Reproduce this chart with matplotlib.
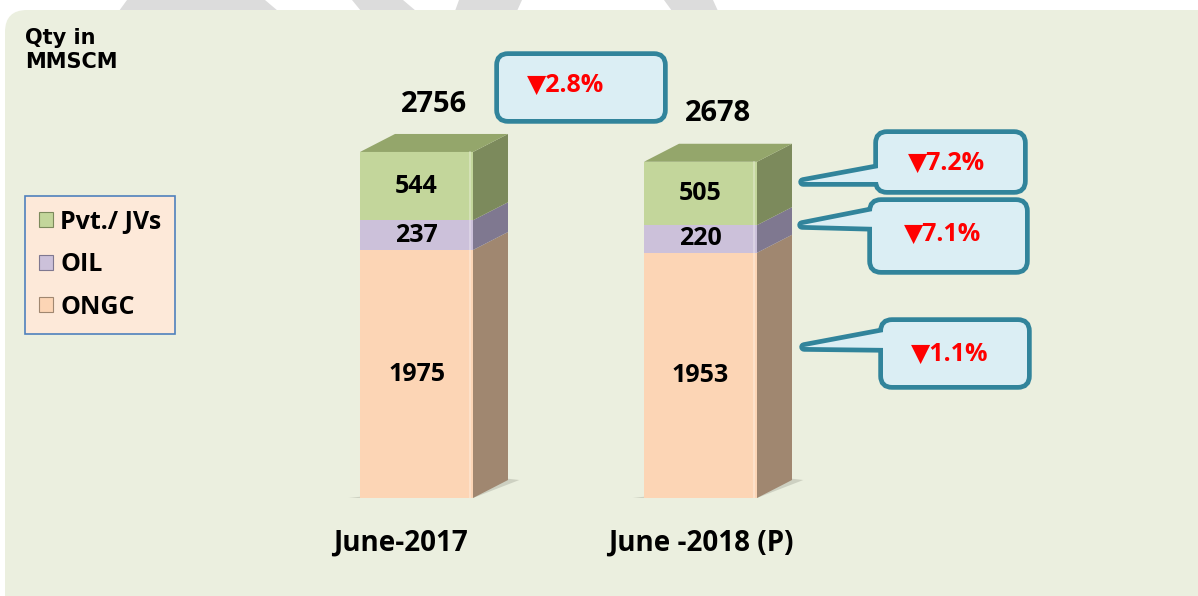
import numpy as np
import matplotlib
matplotlib.use("Agg")
import matplotlib.pyplot as plt
import matplotlib.transforms as mtransforms
from matplotlib.patches import Rectangle, Polygon, FancyBboxPatch, Patch

plt.rcParams['font.family'] = ['Open Sans', 'DejaVu Sans']
plt.rcParams['font.weight'] = 'bold'

# ------------------------------
# Data
# ------------------------------
categories = ['June-2017', 'June -2018 (P)']
series = ['ONGC', 'OIL', 'Pvt./ JVs']
ongc = [1975, 1953]
oil = [237, 220]
pvt = [544, 505]
totals = [2756, 2678]
change_labels = ['\u25bc7.2%', '\u25bc7.1%', '\u25bc1.1%']   # Pvt, OIL, ONGC
total_change = '\u25bc2.8%'

# styles
front_cols = ['#FCD5B5', '#CCC1DA', '#C3D69B']
side_cols = ['#A08770', '#7F7890', '#7C8A5C']
top_col = '#94A66B'
panel_col = '#EBEFDF'
box_fc = '#DBEEF4'
box_ec = '#31849B'

W, H = 1198, 596
fig = plt.figure(figsize=(W / 100, H / 100), dpi=100)
fig.patch.set_facecolor('white')

# background overlay in pixel coords
bg = fig.add_axes([0, 0, 1, 1])
bg.set_xlim(0, W)
bg.set_ylim(H, 0)
bg.axis('off')
for poly in [[(127, 0), (265, 0), (278, 11), (119, 11)],
             [(352, 0), (403, 0), (416, 11), (361, 11)],
             [(459, 0), (522, 0), (517, 11), (455, 11)],
             [(664, 0), (713, 0), (718, 11), (672, 11)]]:
    bg.add_patch(Polygon(poly, closed=True, fc='#DCDCDC', ec='none'))
bg.add_patch(FancyBboxPatch((5, 10), W + 40, H + 40,
                            boxstyle='round,pad=0,rounding_size=22',
                            fc=panel_col, ec='none'))
bg.text(25, 50, 'Qty in\nMMSCM', fontsize=15, fontweight='bold',
        family='DejaVu Sans', va='center', ha='left', linespacing=1.2)

# ------------------------------
# Bars (pseudo 3D)
# ------------------------------
ax = fig.add_axes([0, (H - 498) / H, 1, 452 / H])
ax.patch.set_alpha(0)
x = np.arange(len(categories))
ax.set_xlim(-416.5 / 284, (W - 416.5) / 284)
ax.set_ylim(0, 3600)
w = 113 / 284
dx = 35 / 284
dy = 18 / (452 / 3600)

stack = [ongc, oil, pvt]
for i, xc in enumerate(x):
    bottom = 0
    x0, x1 = xc - w / 2, xc + w / 2
    # ground shadow
    ax.add_patch(Polygon([(x0 - 0.04, 0), (x1, 0), (x1 + dx + 0.04, dy),
                          (x1 + dx, dy + 10), (x0, 10)],
                         closed=True, fc='#B9BCAE', ec='none', alpha=0.6, zorder=1))
    for s, vals in enumerate(stack):
        v = vals[i]
        top = bottom + v
        ax.add_patch(Rectangle((x0, bottom), w, v, fc=front_cols[s], ec='none', zorder=2))
        ax.add_patch(Polygon([(x1, bottom), (x1 + dx, bottom + dy),
                              (x1 + dx, top + dy), (x1, top)],
                             closed=True, fc=side_cols[s], ec='none', zorder=2))
        ax.text(xc, bottom + v / 2, str(v), ha='center', va='center',
                fontsize=18, fontweight='bold', zorder=3)
        bottom = top
    ax.add_patch(Polygon([(x0, bottom), (x1, bottom), (x1 + dx, bottom + dy),
                          (x0 + dx, bottom + dy)],
                         closed=True, fc=top_col, ec='none', zorder=2))
    # soft highlight line on front face
    ax.plot([x1 - 0.012, x1 - 0.012], [0, bottom], color='white', lw=1.2, alpha=0.35, zorder=2)
    ax.annotate(str(totals[i]), (xc + dx / 2, bottom + dy), xytext=(0, 11),
                textcoords='offset points', ha='center', va='bottom',
                fontsize=21, fontweight='bold')

ax.set_xticks(x)
ax.set_xticklabels(categories, fontsize=20, fontweight='bold')
ax.tick_params(axis='x', length=0, pad=22)
# first category label sits a little left of its bar in the original
lbl0 = ax.get_xticklabels()[0]
lbl0.set_transform(lbl0.get_transform() +
                   mtransforms.ScaledTranslation(-0.16, 0, fig.dpi_scale_trans))
ax.set_yticks([])
for sp in ax.spines.values():
    sp.set_visible(False)

handles = [Patch(fc=front_cols[s], ec=side_cols[s], lw=0.8) for s in [2, 1, 0]]
leg = ax.legend(handles, [series[2], series[1], series[0]],
                loc='upper left', bbox_to_anchor=(25 / W, 1 - 196 / H),
                bbox_transform=fig.transFigure, fancybox=False,
                prop={'family': 'Open Sans', 'weight': 'bold', 'size': 18},
                handlelength=0.55, handleheight=0.55, handletextpad=0.3,
                labelspacing=0.7, borderpad=0.55, borderaxespad=0, frameon=True)
leg.get_frame().set_facecolor('#FDE9D9')
leg.get_frame().set_edgecolor('#4F81BD')
leg.get_frame().set_linewidth(1.2)
leg.get_frame().set_alpha(1)

# ------------------------------
# Callouts (pixel coords overlay)
# ------------------------------
ov = fig.add_axes([0, 0, 1, 1])
ov.set_xlim(0, W)
ov.set_ylim(H, 0)
ov.axis('off')
ov.patch.set_alpha(0)

def callout(box, text, tip=None, base=None, tx=None):
    bx0, by0, bx1, by1 = box
    lw = 3.4
    shape = FancyBboxPatch((bx0, by0), bx1 - bx0, by1 - by0,
                           boxstyle='round,pad=0,rounding_size=9',
                           fc=box_fc, ec=box_ec, lw=lw * 2, zorder=5)
    ov.add_patch(shape)
    if tip is not None:
        pts = [tip, (bx0 + 6, base[0]), (bx0 + 6, base[1])]
        ov.add_patch(Polygon(pts, closed=True, fc=box_fc, ec=box_ec, lw=lw * 2,
                             joinstyle='round', zorder=5))
        ov.add_patch(Polygon(pts, closed=True, fc=box_fc, ec='none', zorder=6))
    ov.add_patch(FancyBboxPatch((bx0, by0), bx1 - bx0, by1 - by0,
                                boxstyle='round,pad=0,rounding_size=9',
                                fc=box_fc, ec='none', zorder=6))
    if tx is None:
        tx = ((bx0 + bx1) / 2, (by0 + by1) / 2)
    ov.text(tx[0], tx[1], text, ha='center', va='center', color='#FF0000',
            fontsize=18, fontweight='bold', family=['Open Sans', 'DejaVu Sans'], zorder=7)

callout((499, 56, 663, 119), total_change, tx=(566, 85))
callout((878, 134, 1023, 190), change_labels[0], tip=(803, 182), base=(167, 182), tx=(946, 163))
callout((872, 202, 1025, 270), change_labels[1], tip=(802, 225), base=(210, 227), tx=(943, 234))
callout((883, 322, 1027, 385), change_labels[2], tip=(804, 347), base=(331, 348), tx=(950, 354))

fig.savefig('out.png', dpi=100)
